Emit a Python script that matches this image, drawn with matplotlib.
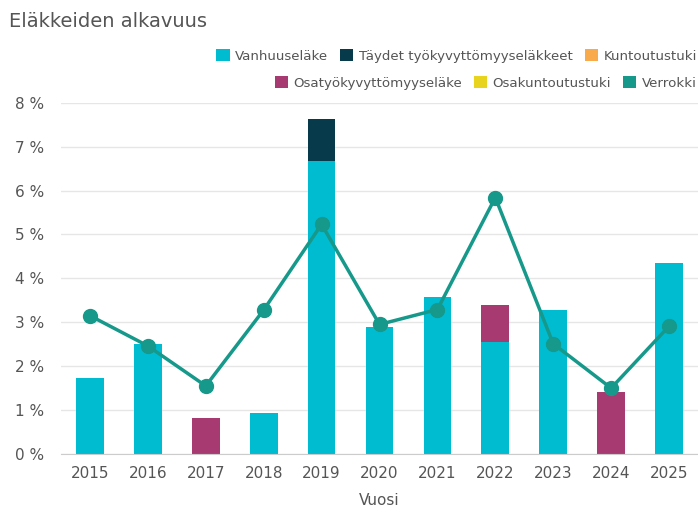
import matplotlib
matplotlib.use("Agg")
import matplotlib.pyplot as plt
from matplotlib.patches import Patch
import numpy as np

years = ["2015", "2016", "2017", "2018", "2019", "2020", "2021", "2022", "2023", "2024", "2025"]
vanhuuselake = [1.74, 2.50, 0.0, 0.94, 6.68, 2.90, 3.57, 2.54, 3.28, 0.0, 4.36]
taydet_tk = [0, 0, 0, 0, 0.95, 0, 0, 0, 0, 0, 0]
kuntoutustuki = [0, 0, 0, 0, 0, 0, 0, 0, 0, 0, 0]
osatyokyvyttomyyselake = [0, 0, 0.81, 0, 0, 0, 0, 0.85, 0, 1.41, 0]
osakuntoutustuki = [0, 0, 0, 0, 0, 0, 0, 0, 0, 0, 0]
verrokki = [3.15, 2.46, 1.55, 3.28, 5.23, 2.95, 3.29, 5.84, 2.51, 1.50, 2.91]

names = ["Vanhuuseläke", "Täydet työkyvyttömyyseläkkeet", "Kuntoutustuki",
         "Osatyökyvyttömyyseläke", "Osakuntoutustuki", "Verrokki"]
colors = ["#00BCD1", "#073B4C", "#F9AA4B", "#A83A72", "#E8D41F", "#16998A"]

fig = plt.figure(figsize=(6.98, 5.22), dpi=100)
ax = fig.add_axes([0.0874, 0.1303, 0.9126, 0.673])

x = np.arange(len(years))
w = 0.48
stack = [vanhuuselake, taydet_tk, kuntoutustuki, osatyokyvyttomyyselake, osakuntoutustuki]
bottom = np.zeros(len(years))
for vals, c in zip(stack, colors[:5]):
    vals = np.array(vals, dtype=float)
    ax.bar(x, vals, w, bottom=bottom, color=c, zorder=2, linewidth=0)
    bottom += vals

ax.plot(x, verrokki, color=colors[5], lw=2.5, marker="o", ms=10, zorder=3)

ax.set_xlim(-0.5, len(years) - 0.5)
ax.set_ylim(0, 8)
ax.set_yticks(range(0, 9))
ax.set_yticklabels([f"{i} %" for i in range(0, 9)])
ax.set_xticks(x)
ax.set_xticklabels(years)
ax.grid(axis="y", color="#e6e6e6", lw=1, zorder=0)
for s in ["top", "right", "left"]:
    ax.spines[s].set_visible(False)
ax.spines["bottom"].set_color("#cccccc")
ax.tick_params(axis="both", length=0, labelsize=11, colors="#555555")
ax.tick_params(axis="y", pad=12)
ax.tick_params(axis="x", pad=9)
ax.set_xlabel("Vuosi", fontsize=11, color="#555555", labelpad=8)

fig.text(0.013, 0.958, "Eläkkeiden alkavuus", fontsize=14, color="#555555", va="center", ha="left")

h = [Patch(facecolor=c, edgecolor="none") for c in colors]
common = dict(ncol=3, loc="center right", frameon=False, fontsize=9.6, handlelength=1.0,
              handleheight=1.0, handletextpad=0.4, columnspacing=0.9, borderaxespad=0,
              borderpad=0.1, labelcolor="#555555")
leg1 = fig.legend(h[:3], names[:3], bbox_to_anchor=(1.0, 0.893), **common)
leg2 = fig.legend(h[3:], names[3:], bbox_to_anchor=(1.0, 0.841), **common)

fig.savefig("out.png", dpi=100)
